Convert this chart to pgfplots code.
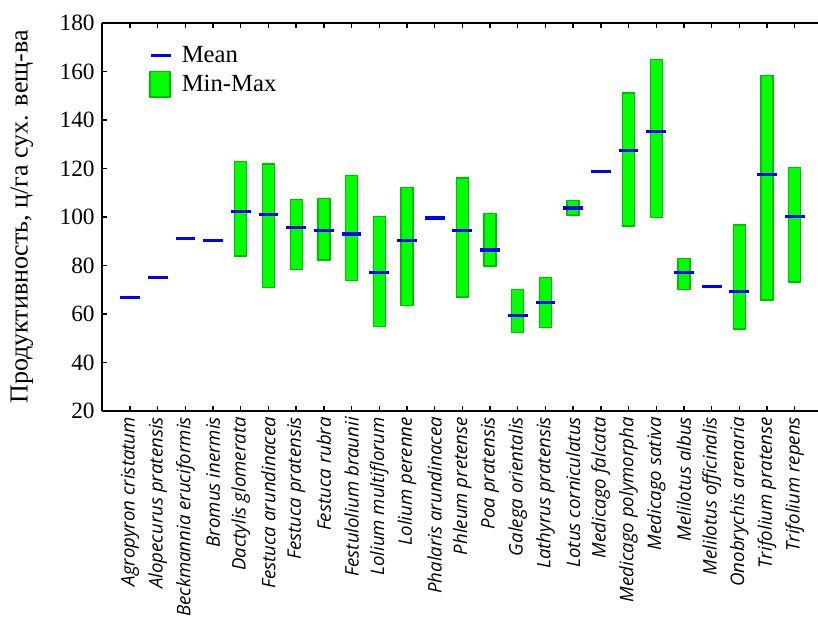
\documentclass[border=0pt]{standalone}
\usepackage{fontspec}
\setmainfont{Liberation Serif}
\newfontfamily\labfont{Open Sans}
\usepackage{pgfplots}
\usepackage{pgfplotstable}
\pgfplotsset{compat=1.18}

\definecolor{mmgreen}{RGB}{0,255,0}
\definecolor{mmdark}{RGB}{0,190,0}
\definecolor{meanblue}{RGB}{0,0,255}

% boxes: category index, min, max
\pgfplotstableread{
x min max
4 83.9 122.8
5 71.0 121.9
6 78.4 107.1
7 82.3 107.7
8 73.9 117.0
9 54.9 100.1
10 63.6 112.1
12 67.0 116.1
13 79.8 101.5
14 52.4 70.0
15 54.5 75.1
16 100.8 106.9
18 96.3 151.1
19 99.9 165.0
20 70.2 83.0
22 53.8 96.7
23 65.8 158.3
24 73.2 120.3
}\boxes

% means
\pgfplotstableread{
x mean
0 66.7
1 75.0
2 91.3
3 90.5
4 102.1
5 101.2
6 95.5
7 94.6
8 93.0
9 77.3
10 90.5
11 99.6
12 94.6
13 86.4
14 59.2
15 64.9
16 103.7
17 118.6
18 127.6
19 135.1
20 77.3
21 71.5
22 69.1
23 117.7
24 100.4
}\means

\pgfplotsset{
  base/.style={
    width=537pt, height=291pt, scale only axis,
    xmin=-1.01, xmax=24.84, ymin=20, ymax=180,
    at={(0,0)}, anchor=south west,
  }
}

\begin{document}
\begin{tikzpicture}
% min-max boxes
\begin{axis}[base, hide axis, ybar stacked, bar width=9pt]
\addplot[draw=none, fill=none] table[x=x, y=min] {\boxes};
\addplot[fill=mmgreen, draw=mmdark, line width=1pt]
  table[x=x, y expr=\thisrow{max}-\thisrow{min}] {\boxes};
\end{axis}

% frame, labels and means
\begin{axis}[base,
  axis x line=box, axis y line=left,
  axis line style={line width=1.3pt, -},
  tick style={line width=1pt, black},
  tick align=inside, major tick length=4pt,
  xtick={0,...,24},
  xticklabels={Agropyron cristatum, Alopecurus pratensis, Beckmannia eruciformis,
    Bromus inermis, Dactylis glomerata, Festuca arundinacea, Festuca pratensis,
    Festuca rubra, Festulolium braunii, Lolium multiflorum, Lolium perenne,
    Phalaris arundinacea, Phleum pretense, Poa pratensis, Galega orientalis,
    Lathyrus pratensis, Lotus corniculatus, Medicago falcata, Medicago polymorpha,
    Medicago sativa, Melilotus albus, Melilotus officinalis, Onobrychis arenaria,
    Trifolium pratense, Trifolium repens},
  xticklabel style={rotate=90, anchor=east, xshift=-1pt,
    font=\labfont\itshape\fontsize{14}{16}\selectfont},
  ytick={20,40,...,180},
  /pgf/number format/assume math mode=true,
  yticklabel style={font=\fontsize{17.5}{20}\selectfont, xshift=-2pt},
  ylabel={Продуктивность, ц/га сух. вещ-ва},
  ylabel style={font=\fontsize{19.5}{22}\selectfont,
    at={(axis description cs:-0.112,0.5)}, anchor=center},
  legend style={draw=none, fill=none, font=\fontsize{18.5}{22}\selectfont,
    at={(axis description cs:0.06,0.955)}, anchor=north west,
    row sep=3pt, column sep=6pt},
  legend cell align=left,
]
\addplot[only marks, mark=-, mark size=7.4pt,
  mark options={line width=2.3pt}, color=meanblue]
  table[x=x, y=mean] {\means};
\addlegendentry{Mean}
\addlegendimage{legend image code/.code={
  \draw[fill=mmgreen, draw=mmdark, line width=1pt] (0pt,-9.5pt) rectangle (15pt,9.5pt);}}
\addlegendentry{Min-Max}
\end{axis}
\pgfresetboundingbox
\useasboundingbox (-76.5pt,-156pt) rectangle (537pt,308.25pt);
\end{tikzpicture}
\end{document}
